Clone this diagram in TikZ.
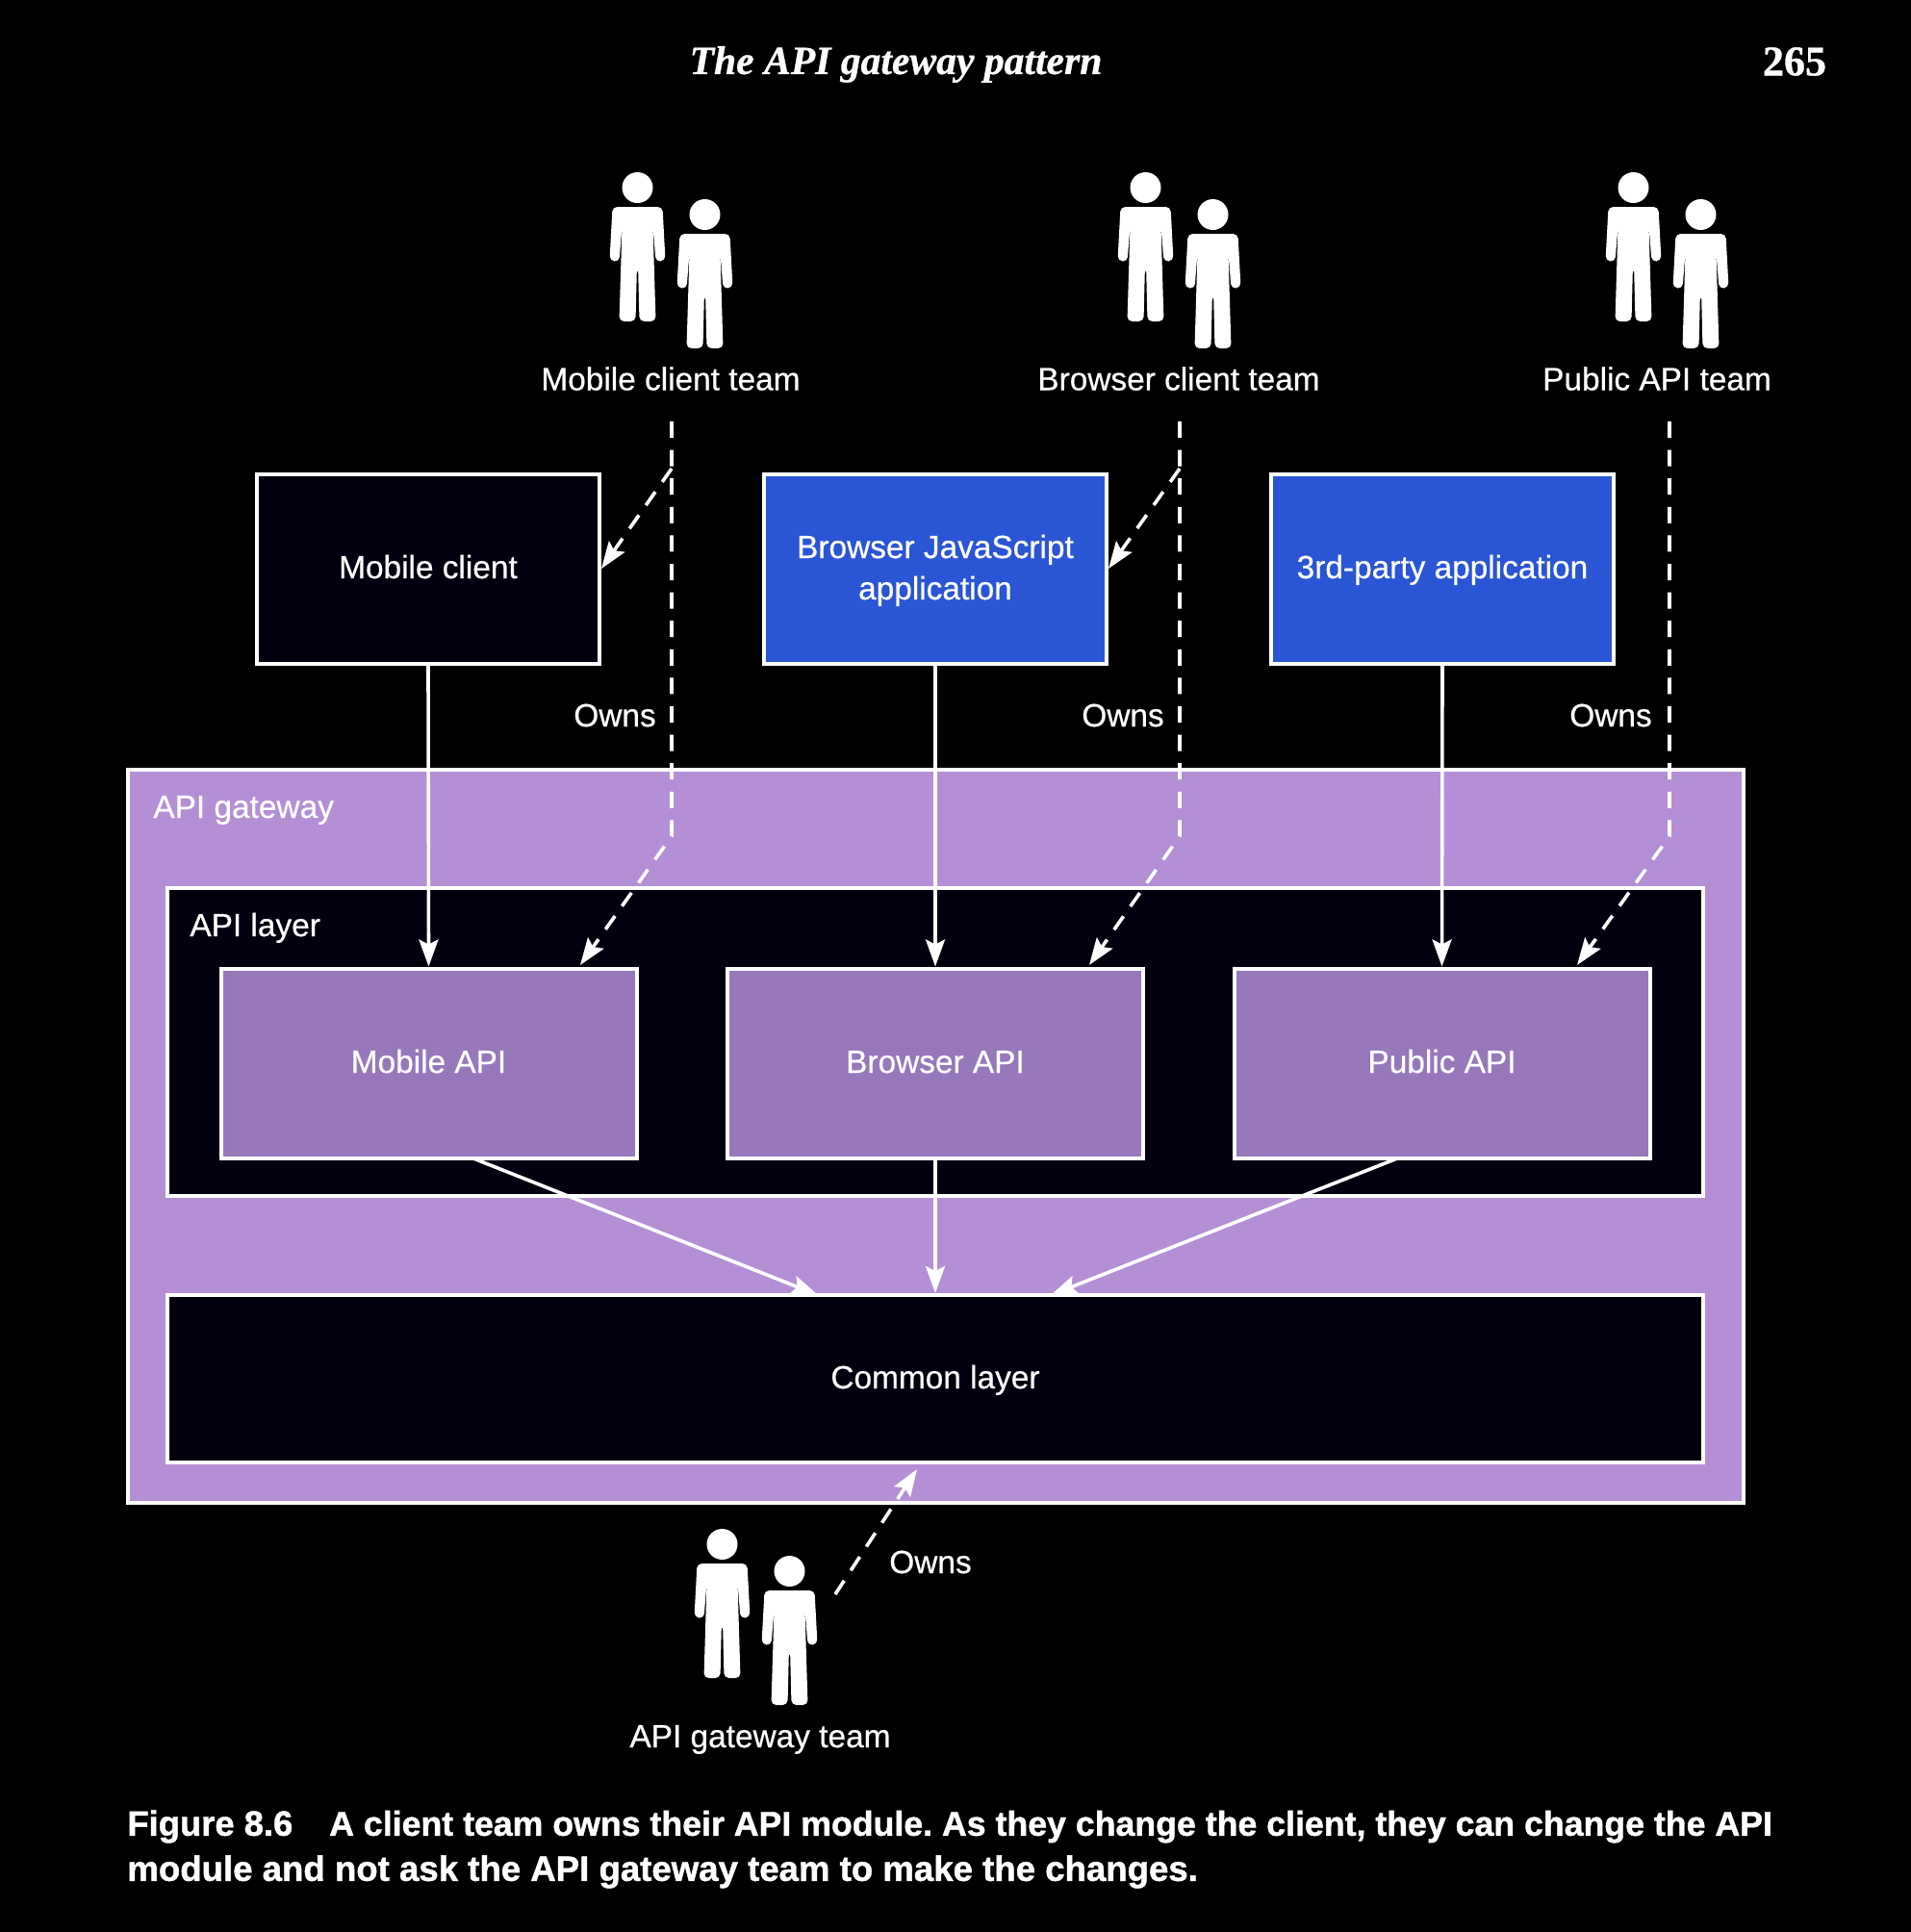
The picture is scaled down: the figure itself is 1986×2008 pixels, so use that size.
\documentclass[tikz,border=0pt]{standalone}
\usepackage{fontspec}
\setmainfont{Liberation Sans}
\newfontfamily\boxfont{Liberation Sans}[FakeBold=0.5]
\newfontfamily\capfont{Liberation Sans}[BoldFeatures={FakeBold=1.2}]
\newfontfamily\headfont{Liberation Serif}[BoldFeatures={FakeBold=0.8}, BoldItalicFeatures={FakeBold=0.8}]
\usetikzlibrary{arrows.meta}
\definecolor{gatewaypurple}{HTML}{B48FD5}
\definecolor{modulepurple}{HTML}{9678BB}
\definecolor{clientblue}{HTML}{2A55D4}
\definecolor{darkbox}{HTML}{00000F}
\tikzset{
    label text/.style={text=white, font=\boxfont\fontsize{16.7}{21.5}\selectfont, align=center, inner sep=0pt, text height=10pt, text depth=0pt},
    two lines/.style={text height=, text depth=1.6pt},
    box/.style={draw=white, line width=2pt, minimum width=#1, inner sep=0pt, label text},
    client/.style={box=178pt, minimum height=98.5pt},
    module/.style={box=216pt, minimum height=98.5pt, fill=modulepurple},
    uses/.style={draw=white, line width=1.8pt, -{Stealth[length=14pt, width=10pt, inset=2.5pt]}},
    owns/.style={uses, dash pattern=on 8.5pt off 6.3pt},
    person/.pic={
        \fill[white] (0,0) circle (8pt);
        \fill[white, rounded corners=2.5pt] (-26,20) -- (26,20) -- (29,76) -- (19,77) -- (16,40)
            -- (19,139) -- (2,139) -- (0.6,83) -- (-0.6,83) -- (-2,139) -- (-19,139) -- (-16,40)
            -- (-19,77) -- (-29,76) -- cycle;
    },
    team/.pic={
        \pic at (0,0) {person};
        \pic at (70,28) {person};
    },
}

\begin{document}
\begin{tikzpicture}[x=0.5pt, y=-0.5pt]
    \fill[black] (0,0) rectangle (1986,2008);
    \useasboundingbox (0,0) rectangle (1986,2008);

    % Page header
    \node[text=white, font=\headfont\bfseries\itshape\fontsize{20.8}{25}\selectfont] (header) at (931,67) {The API gateway pattern};
    \node[text=white, font=\headfont\bfseries\fontsize{22}{26}\selectfont] (pagenum) at (1865,64) {265};

    % Teams
    \pic at (662.5,195) {team};
    \pic at (1190.5,195) {team};
    \pic at (1697.5,195) {team};
    \pic at (750.5,1605) {team};
    \node[label text] (mobileteam) at (697,395.5) {Mobile client team};
    \node[label text] (browserteam) at (1225,395.5) {Browser client team};
    \node[label text] (publicteam) at (1722,395.5) {Public API team};
    \node[label text] (gatewayteam) at (790,1806) {API gateway team};

    % Clients
    \node[client, fill=darkbox] (mobile) at (445,591) {Mobile client};
    \node[client, fill=clientblue, two lines] (browser) at (972,591) {Browser JavaScript\\application};
    \node[client, fill=clientblue] (thirdparty) at (1499,591) {3rd-party application};

    % API gateway
    \draw[white, line width=2pt, fill=gatewaypurple] (133,800) rectangle (1812,1562);
    \node[label text, anchor=west] (gatewaylabel) at (159,840) {API gateway};
    \draw[white, line width=2pt, fill=darkbox] (174,923) rectangle (1770,1243);
    \node[label text, anchor=west] (layerlabel) at (197,963) {API layer};
    \node[module] (mobileapi) at (445.5,1105) {Mobile API};
    \node[module] (browserapi) at (972,1105) {Browser API};
    \node[module] (publicapi) at (1498.5,1105) {Public API};
    \node[box=798pt, minimum height=87pt, fill=darkbox] (common) at (972,1433) {Common layer};

    % Uses arrows
    \draw[uses] (mobile.south) -- (mobileapi.north);
    \draw[uses] (browser.south) -- (browserapi.north);
    \draw[uses] (thirdparty.south) -- (publicapi.north);
    \coordinate (mobileout) at (492,1204);
    \coordinate (publicout) at (1452,1204);
    \coordinate (mobilein) at (850,1346);
    \coordinate (publicin) at (1092,1346);
    \draw[uses] (mobileout) -- (mobilein);
    \draw[uses] (browserapi.south) -- (common.north);
    \draw[uses] (publicout) -- (publicin);

    % Owns arrows
    \coordinate (mobiletop) at (698,438);
    \coordinate (mobilebranch) at (698,487);
    \coordinate (mobilebend) at (698,869);
    \coordinate (mobiletip) at (603,1003);
    \coordinate (browsertop) at (1226,438);
    \coordinate (browserbranch) at (1226,487);
    \coordinate (browserbend) at (1226,869);
    \coordinate (browsertip) at (1132,1003);
    \coordinate (publictop) at (1735,438);
    \coordinate (publicbend) at (1735,869);
    \coordinate (publictip) at (1639,1003);
    \coordinate (gatewaystart) at (868,1657);
    \coordinate (gatewaytip) at (953,1527);
    \draw[owns] (mobiletop) -- (mobilebend) -- (mobiletip);
    \draw[owns] (mobilebranch) -- (mobile.east);
    \draw[owns] (browsertop) -- (browserbend) -- (browsertip);
    \draw[owns] (browserbranch) -- (browser.east);
    \draw[owns] (publictop) -- (publicbend) -- (publictip);
    \draw[owns] (gatewaystart) -- (gatewaytip);
    \node[label text] (ownsmobile) at (639,745) {Owns};
    \node[label text] (ownsbrowser) at (1167,745) {Owns};
    \node[label text] (ownspublic) at (1674,745) {Owns};
    \node[label text] (ownsgateway) at (967,1625) {Owns};

    % Caption
    \node[text=white, anchor=west, font=\capfont\bfseries\fontsize{17.85}{23.5}\selectfont, align=left, inner sep=0pt] (caption) at (132,1922)
        {\frenchspacing{\fontsize{18.2}{23.5}\selectfont Figure 8.6}\hspace{14pt} A client team owns their API module. As they change the client, they can change the API\\{\fontsize{18.3}{23.5}\selectfont module and not ask the API gateway team to make the changes.}};
\end{tikzpicture}
\end{document}
